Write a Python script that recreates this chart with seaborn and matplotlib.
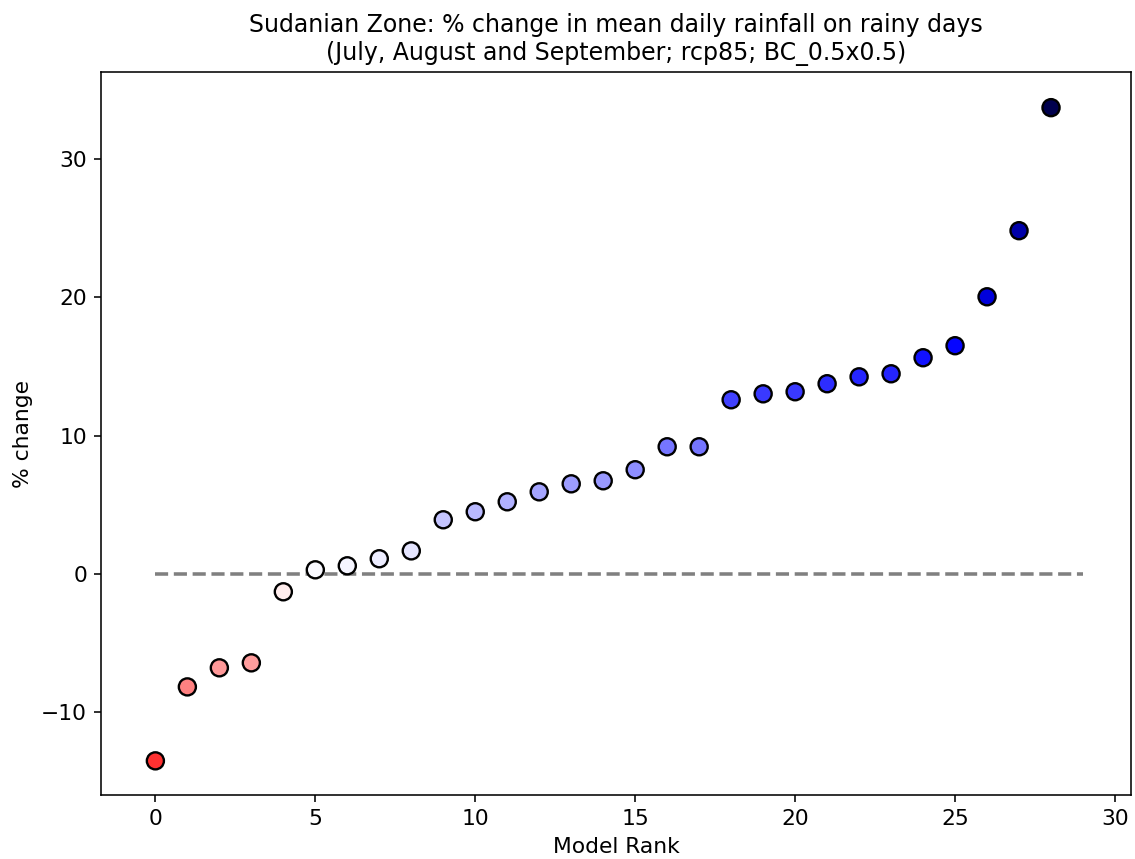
import numpy as np
import pandas as pd
import matplotlib
matplotlib.use("Agg")
import matplotlib.pyplot as plt
import seaborn as sns

ranks = list(range(29))
pct_change = [-13.53, -8.18, -6.80, -6.44, -1.30, 0.29, 0.58, 1.09, 1.66, 3.91,
              4.49, 5.21, 5.93, 6.51, 6.73, 7.53, 9.19, 9.19, 12.59, 13.02,
              13.17, 13.75, 14.25, 14.47, 15.63, 16.50, 20.04, 24.82, 33.72]

title = ("Sudanian Zone: % change in mean daily rainfall on rainy days\n"
         "(July, August and September; rcp85; BC_0.5x0.5)")

df = pd.DataFrame({"rank": ranks, "change": pct_change})

vmax = max(abs(v) for v in pct_change)
cmap = plt.get_cmap("seismic_r")
norm = matplotlib.colors.Normalize(vmin=-vmax, vmax=vmax)
palette = {r: cmap(norm(v)) for r, v in zip(ranks, pct_change)}

dpi = 142
fig = plt.figure(figsize=(1135 / dpi, 859 / dpi), dpi=dpi)
ax = fig.add_axes([101 / 1135, 1 - 795 / 859, (1131 - 101) / 1135, (795 - 72) / 859])

ax.hlines(0, 0, len(ranks), colors="grey", linestyles="--", linewidth=1.8, zorder=1)
sns.scatterplot(data=df, x="rank", y="change", hue="rank", palette=palette,
                legend=False, s=75, edgecolor="black", linewidth=1.2, ax=ax, zorder=2)

ax.set_xlim(-1.7, 30.5)
ax.set_ylim(-16.0, 36.3)
ax.set_xticks([0, 5, 10, 15, 20, 25, 30])
ax.set_yticks([-10, 0, 10, 20, 30])
ax.set_xlabel("Model Rank", fontsize=11)
ax.set_ylabel("% change", fontsize=11)
ax.set_title(title, fontsize=12)
ax.tick_params(labelsize=11)

fig.savefig("out.png", dpi=dpi)
